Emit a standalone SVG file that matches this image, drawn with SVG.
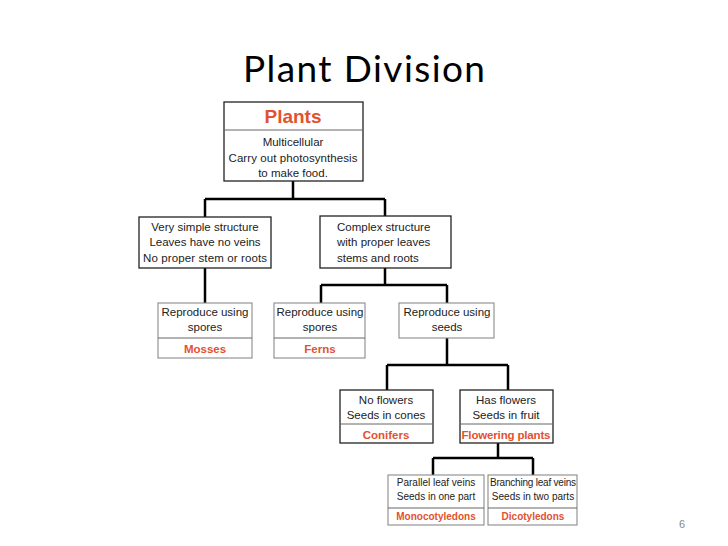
<svg xmlns="http://www.w3.org/2000/svg" width="728" height="546" viewBox="0 0 728 546">
<style>
.bg{fill:#fff}
.bk{fill:#fff;stroke:#222;stroke-width:1.3}
.gr{fill:#fff;stroke:#8a8a8a;stroke-width:1.1}
.dv{stroke:#666;stroke-width:1}
.t{font-family:"Liberation Sans",Arial,sans-serif;font-size:11.5px;fill:#222;text-anchor:middle}
.s{font-family:"Liberation Sans",Arial,sans-serif;font-size:10px;fill:#222;text-anchor:middle}
.r{font-family:"Liberation Sans",Arial,sans-serif;font-weight:bold;font-size:11.5px;fill:#e2522f;text-anchor:middle}
.rs{font-family:"Liberation Sans",Arial,sans-serif;font-weight:bold;font-size:10px;fill:#e2522f;text-anchor:middle}
.c{fill:none;stroke:#000;stroke-width:2.5}
</style>
<rect class="bg" x="0" y="0" width="728" height="546"/>
<text x="364" y="82" font-family="Lato,'Open Sans',sans-serif" font-size="37" fill="#000" text-anchor="middle" textLength="242">Plant Division</text>
<g id="connectors">
<path class="c" d="M293 181V199M205 199H385M205 199V217M385 199V216"/>
<path class="c" d="M205 268V303"/>
<path class="c" d="M385 268V285M321 285H447M321 285V303M447 285V303"/>
<path class="c" d="M447 338V365M387 365H508M387 365V390M508 365V390"/>
<path class="c" d="M498 443V458M433 458H533M433 458V475M533 458V475"/>
</g>
<g id="plants">
<rect class="bk" x="224" y="102" width="139" height="79" stroke="#444"/>
<line class="dv" x1="224" y1="130" x2="363" y2="130"/>
<text x="293" y="123" font-family="'Liberation Sans',Arial,sans-serif" font-weight="bold" font-size="19" fill="#e2522f" text-anchor="middle">Plants</text>
<text class="t" x="293" y="146">Multicellular</text>
<text class="t" x="293" y="162" textLength="129">Carry out photosynthesis</text>
<text class="t" x="293" y="177">to make food.</text>
</g>
<g id="simple">
<rect class="bk" x="139" y="217" width="132" height="51"/>
<text class="t" x="205" y="231">Very simple structure</text>
<text class="t" x="205" y="246">Leaves have no veins</text>
<text class="t" x="205" y="262" textLength="124">No proper stem or roots</text>
</g>
<g id="complex">
<rect class="bk" x="320" y="216" width="131" height="52"/>
<text class="t" x="337" y="231" style="text-anchor:start">Complex structure</text>
<text class="t" x="337" y="246" style="text-anchor:start">with proper leaves</text>
<text class="t" x="337" y="262" style="text-anchor:start">stems and roots</text>
</g>
<g id="mosses">
<rect class="gr" x="158" y="303" width="94" height="55"/>
<line class="dv" x1="158" y1="338" x2="252" y2="338" stroke="#999"/>
<text class="t" x="205" y="316">Reproduce using</text>
<text class="t" x="205" y="331">spores</text>
<text class="r" x="205" y="353">Mosses</text>
</g>
<g id="ferns">
<rect class="gr" x="274" y="303" width="91" height="55"/>
<line class="dv" x1="274" y1="338" x2="365" y2="338" stroke="#999"/>
<text class="t" x="320" y="316">Reproduce using</text>
<text class="t" x="320" y="331">spores</text>
<text class="r" x="320" y="353">Ferns</text>
</g>
<g id="seeds">
<rect class="gr" x="399" y="303" width="95" height="35"/>
<text class="t" x="447" y="316">Reproduce using</text>
<text class="t" x="447" y="331">seeds</text>
</g>
<g id="conifers">
<rect class="bk" x="340" y="390" width="93" height="53"/>
<line class="dv" x1="340" y1="424" x2="433" y2="424"/>
<text class="t" x="386" y="404">No flowers</text>
<text class="t" x="386" y="419">Seeds in cones</text>
<text class="r" x="386" y="439">Conifers</text>
</g>
<g id="flowering">
<rect class="bk" x="460" y="390" width="93" height="53"/>
<line class="dv" x1="460" y1="424" x2="553" y2="424"/>
<text class="t" x="506" y="404">Has flowers</text>
<text class="t" x="506" y="419">Seeds in fruit</text>
<text class="r" x="506" y="439" textLength="89">Flowering plants</text>
</g>
<g id="monocot">
<rect class="gr" x="388" y="475" width="96" height="50"/>
<line class="dv" x1="388" y1="508" x2="484" y2="508" stroke="#999"/>
<text class="s" x="436" y="486">Parallel leaf veins</text>
<text class="s" x="436" y="500">Seeds in one part</text>
<text class="rs" x="436" y="520">Monocotyledons</text>
</g>
<g id="dicot">
<rect class="gr" x="488" y="475" width="89" height="50"/>
<line class="dv" x1="488" y1="508" x2="577" y2="508" stroke="#999"/>
<text class="s" x="533" y="486" textLength="86">Branching leaf veins</text>
<text class="s" x="533" y="500">Seeds in two parts</text>
<text class="rs" x="533" y="520">Dicotyledons</text>
</g>
<text x="682" y="528" font-family="'Liberation Sans',Arial,sans-serif" font-size="11" fill="#888" text-anchor="middle">6</text>
</svg>
